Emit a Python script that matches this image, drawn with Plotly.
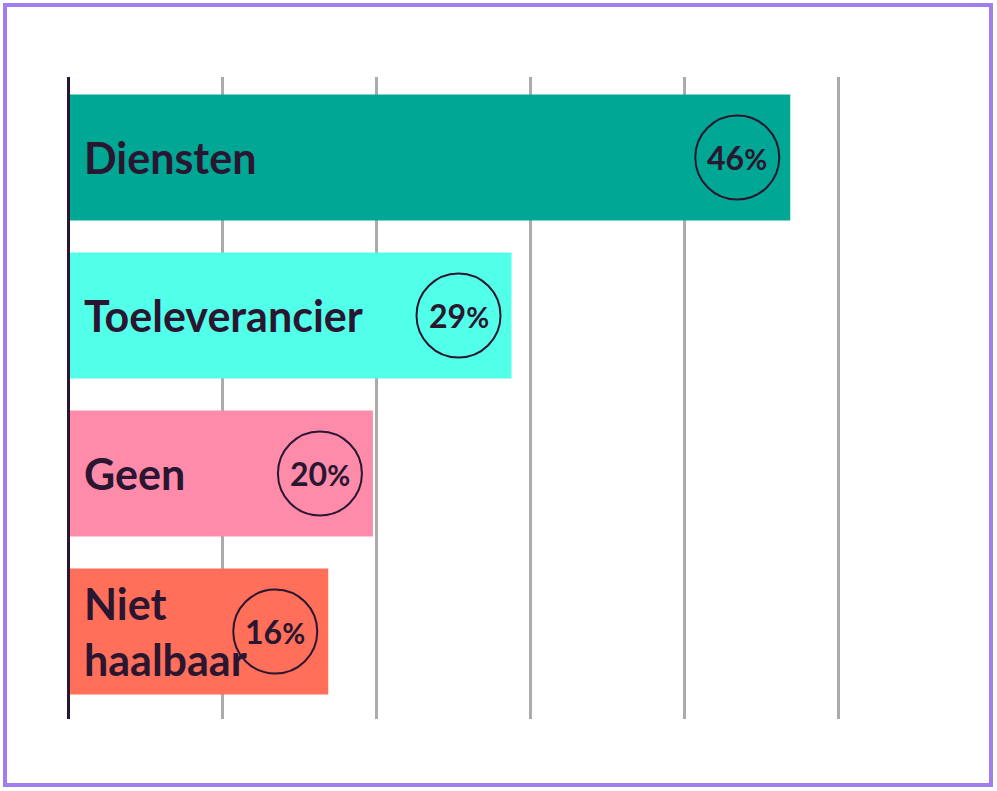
import plotly.graph_objects as go

categories = ["Diensten", "Toeleverancier", "Geen", "Niet haalbaar"]
label_text = ["Diensten", "Toeleverancier", "Geen", "Niet<br>haalbaar"]
values = [46.9, 28.8, 19.8, 16.9]
pct_labels = ["46%", "29%", "20%", "16%"]
colors = ["#00A794", "#52FFE9", "#FF8BAA", "#FF6F59"]
grid_ticks = [0, 10, 20, 30, 40, 50]

W, H = 997, 791
ML, MR, MT, MB = 68, 157, 77, 72
TEXT = "#2A1630"
FONT = "Lato"
XMAX = 50.13

fig = go.Figure(go.Bar(
    x=values, y=categories, orientation="h",
    marker=dict(color=colors, line=dict(width=0)),
    hoverinfo="skip",
))

pw = W - ML - MR
ph = H - MT - MB

def px_x(p):
    return (p - ML) / pw

def px_y(p):
    return (H - MB - p) / ph

shapes = [
    dict(type="rect", xref="paper", yref="paper",
         x0=px_x(5), x1=px_x(991), y0=px_y(785), y1=px_y(5),
         line=dict(color="#A07EF0", width=4), layer="above"),
    dict(type="line", xref="paper", yref="paper", x0=px_x(68.5), x1=px_x(68.5), y0=0, y1=1,
         line=dict(color=TEXT, width=3), layer="above"),
]
annotations = []
R = 42
OFF = -53
for cat, txt, v, p in zip(categories, label_text, values, pct_labels):
    shapes.append(dict(type="circle", xref="x", yref="y", xsizemode="pixel", ysizemode="pixel",
                       xanchor=v, yanchor=cat, x0=OFF - R, x1=OFF + R, y0=-R, y1=R,
                       line=dict(color=TEXT, width=2), fillcolor="rgba(0,0,0,0)", layer="above"))
    annotations.append(dict(x=0, y=cat, xref="x", yref="y", text=txt, showarrow=False,
                            xanchor="left", yanchor="middle", xshift=14, align="left",
                            font=dict(family=FONT, size=43, color=TEXT, weight="bold")))
    num, pc = p[:-1], p[-1]
    annotations.append(dict(x=v, y=cat, xref="x", yref="y",
                            text=num + "<span style='font-size:28px'>" + pc + "</span>",
                            showarrow=False, xanchor="center", yanchor="middle", xshift=OFF,
                            font=dict(family=FONT, size=32, color=TEXT, weight="bold")))

# y axis: one category per 158 px, first centre at y=157.5 px
slot = 158.0
top = -(157.5 - MT) / slot
bottom = top + ph / slot

fig.update_layout(
    width=W, height=H,
    margin=dict(l=ML, r=MR, t=MT, b=MB, pad=0),
    paper_bgcolor="white", plot_bgcolor="white",
    bargap=1 - 126 / slot,
    showlegend=False,
    xaxis=dict(range=[0, XMAX], tickvals=grid_ticks, showticklabels=False, ticks="",
               showgrid=True, gridcolor="#ABABAB", gridwidth=2.5, zeroline=False, showline=False,
               fixedrange=True),
    yaxis=dict(categoryorder="array", categoryarray=categories, range=[bottom, top],
               showticklabels=False, ticks="", showgrid=False, zeroline=False, showline=False,
               fixedrange=True),
    shapes=shapes,
    annotations=annotations,
)

fig.write_html("out.html", config={"displayModeBar": False})
